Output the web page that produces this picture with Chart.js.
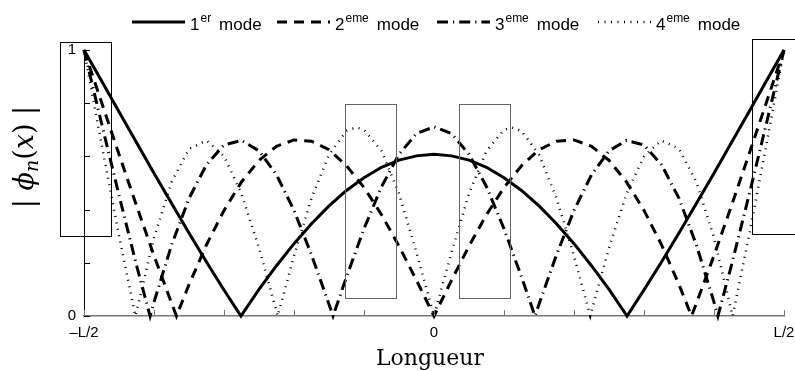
<!DOCTYPE html>
<html>
<head>
<meta charset="utf-8">
<script src="https://cdn.jsdelivr.net/npm/chart.js@4.4.1/dist/chart.umd.min.js"></script>
<style>
  html, body { margin: 0; padding: 0; background: #fff; }
  #wrap { width: 795px; height: 371px; }
</style>
</head>
<body>
<div id="wrap"><canvas id="chart"></canvas></div>
<script>
// |phi_n(x)|, x in units of L (-L/2 .. L/2)
const mode1X = [-0.5, -0.475, -0.45, -0.425, -0.4, -0.375, -0.35, -0.325, -0.3, -0.2758, -0.25, -0.225, -0.2, -0.175, -0.15, -0.125, -0.1, -0.075, -0.05, -0.025, 0,
  0.025, 0.05, 0.075, 0.1, 0.125, 0.15, 0.175, 0.2, 0.225, 0.25, 0.2758, 0.3, 0.325, 0.35, 0.375, 0.4, 0.425, 0.45, 0.475, 0.5]
const mode1Y = [1, 0.884, 0.768, 0.652, 0.537, 0.424, 0.312, 0.203, 0.098, 0, 0.100, 0.189, 0.272, 0.347, 0.414, 0.472, 0.520, 0.559, 0.586, 0.602, 0.608,
  0.602, 0.586, 0.559, 0.520, 0.472, 0.414, 0.347, 0.272, 0.189, 0.100, 0, 0.098, 0.203, 0.312, 0.424, 0.537, 0.652, 0.768, 0.884, 1]

const mode2X = [-0.5, -0.475, -0.45, -0.425, -0.4, -0.375, -0.3679, -0.35, -0.325, -0.3, -0.275, -0.25, -0.225, -0.2, -0.175, -0.15, -0.125, -0.1, -0.075, -0.05, -0.025, 0,
  0.025, 0.05, 0.075, 0.1, 0.125, 0.15, 0.175, 0.2, 0.225, 0.25, 0.275, 0.3, 0.325, 0.35, 0.3679, 0.375, 0.4, 0.425, 0.45, 0.475, 0.5]
const mode2Y = [1, 0.804, 0.608, 0.415, 0.227, 0.049, 0, 0.118, 0.268, 0.397, 0.504, 0.585, 0.638, 0.662, 0.657, 0.625, 0.565, 0.483, 0.381, 0.263, 0.134, 0,
  0.134, 0.263, 0.381, 0.483, 0.565, 0.625, 0.657, 0.662, 0.638, 0.585, 0.504, 0.397, 0.268, 0.118, 0, 0.049, 0.227, 0.415, 0.608, 0.804, 1]

const mode3X = [-0.5, -0.475, -0.45, -0.425, -0.4056, -0.4, -0.375, -0.35, -0.325, -0.3, -0.275, -0.25, -0.225, -0.2, -0.175, -0.15, -0.1442, -0.125, -0.1, -0.075, -0.05, -0.025, 0,
  0.025, 0.05, 0.075, 0.1, 0.125, 0.1442, 0.15, 0.175, 0.2, 0.225, 0.25, 0.275, 0.3, 0.325, 0.35, 0.375, 0.4, 0.4056, 0.425, 0.45, 0.475, 0.5]
const mode3Y = [1, 0.725, 0.454, 0.191, 0, 0.052, 0.266, 0.442, 0.569, 0.643, 0.660, 0.621, 0.531, 0.397, 0.230, 0.044, 0, 0.147, 0.328, 0.486, 0.608, 0.686, 0.711,
  0.686, 0.608, 0.486, 0.328, 0.147, 0, 0.044, 0.230, 0.397, 0.531, 0.621, 0.660, 0.643, 0.569, 0.442, 0.266, 0.052, 0, 0.191, 0.454, 0.725, 1]

const mode4X = [-0.5, -0.475, -0.45, -0.4266, -0.425, -0.4, -0.375, -0.35, -0.325, -0.3, -0.275, -0.25, -0.225, -0.2232, -0.2, -0.175, -0.15, -0.125, -0.111, -0.1, -0.075, -0.05, -0.025, 0,
  0.025, 0.05, 0.075, 0.1, 0.111, 0.125, 0.15, 0.175, 0.2, 0.2232, 0.225, 0.25, 0.275, 0.3, 0.325, 0.35, 0.375, 0.4, 0.425, 0.4266, 0.45, 0.475, 0.5]
const mode4Y = [1, 0.647, 0.302, 0, 0.017, 0.294, 0.503, 0.628, 0.660, 0.601, 0.459, 0.256, 0.018, 0, 0.226, 0.443, 0.607, 0.696, 0.709, 0.700, 0.621, 0.460, 0.239, 0,
  0.239, 0.460, 0.621, 0.700, 0.709, 0.696, 0.607, 0.443, 0.226, 0, 0.018, 0.256, 0.459, 0.601, 0.660, 0.628, 0.503, 0.294, 0.017, 0, 0.302, 0.647, 1]

const modeNumbers = ['1', '2', '3', '4']
const modeSuffixes = ['er', 'eme', 'eme', 'eme']

const xTickValues = [-0.5, 0, 0.5]
const xTickLabels = ['\u2013L/2', '0', 'L/2']
const yTickValues = [0, 1]
const yTickLabels = ['0', '1']

// highlight frames, in data units: [x0, x1, y0, y1]
const frames = [
  [-0.534, -0.462, 0.299, 1.029],
  [-0.127, -0.055, 0.066, 0.797],
  [0.036, 0.108, 0.066, 0.798],
  [0.454, 0.54, 0.307, 1.041]
]
const frameColors = ['#000', '#666', '#666', '#000']

const lineStyles = [
  { width: 3, dash: [] },
  { width: 3, dash: [10, 7] },
  { width: 3, dash: [11, 5, 1.2, 5] },
  { width: 2.5, dash: [1, 5.5] }
]

// left edge of each legend entry, in pixels
const legendStarts = [132, 277, 437, 598]

const sansFont = '"Liberation Sans", Arial, Helvetica, sans-serif'
const serifFont = '"DejaVu Serif", "Liberation Serif", serif'

function points (xs, ys) {
  return xs.map((x, i) => ({ x: x, y: ys[i] }))
}

function buildDataset (xs, ys, i) {
  return {
    label: modeNumbers[i] + modeSuffixes[i] + ' mode',
    data: points(xs, ys),
    showLine: true,
    borderColor: '#000',
    borderWidth: lineStyles[i].width,
    borderDash: lineStyles[i].dash,
    borderCapStyle: 'butt',
    borderJoinStyle: 'miter',
    pointRadius: 0,
    tension: 0,
    clip: false
  }
}

function labelFor (values, labels) {
  return (v) => {
    const k = values.findIndex((t) => Math.abs(t - v) < 1e-6)
    return k < 0 ? '' : labels[k]
  }
}

// ticks pointing into the plot, like the original
const innerTicks = {
  id: 'innerTicks',
  afterDatasetsDraw (chart) {
    const { ctx, chartArea, scales } = chart
    ctx.save()
    ctx.lineWidth = 1
    ctx.strokeStyle = '#777'
    scales.x.ticks.forEach((t) => {
      const px = Math.round(scales.x.getPixelForValue(t.value)) + 0.5
      ctx.beginPath()
      ctx.moveTo(px, chartArea.bottom)
      ctx.lineTo(px, chartArea.bottom - 6)
      ctx.stroke()
    })
    ctx.strokeStyle = '#000'
    scales.y.ticks.forEach((t) => {
      const py = Math.round(scales.y.getPixelForValue(t.value)) + 0.5
      ctx.beginPath()
      ctx.moveTo(chartArea.left, py)
      ctx.lineTo(chartArea.left + 6, py)
      ctx.stroke()
    })
    ctx.restore()
  }
}

const framesPlugin = {
  id: 'frames',
  afterDatasetsDraw (chart) {
    const { ctx, scales } = chart
    ctx.save()
    ctx.lineWidth = 1
    frames.forEach((f, i) => {
      const x0 = Math.round(scales.x.getPixelForValue(f[0])) + 0.5
      const x1 = Math.round(scales.x.getPixelForValue(f[1])) + 0.5
      const y0 = Math.round(scales.y.getPixelForValue(f[2])) + 0.5
      const y1 = Math.round(scales.y.getPixelForValue(f[3])) + 0.5
      ctx.strokeStyle = frameColors[i]
      ctx.strokeRect(x0, y1, x1 - x0, y0 - y1)
    })
    ctx.restore()
  }
}

const titles = {
  id: 'titles',
  afterDraw (chart) {
    const { ctx, chartArea } = chart
    ctx.save()
    ctx.fillStyle = '#000'
    ctx.textBaseline = 'alphabetic'

    // x title
    ctx.font = '22px ' + serifFont
    ctx.textAlign = 'center'
    ctx.fillText('Longueur', 430, 365)

    // y title: | phi_n(x) |
    const pieces = [
      ['|', 'normal 27px', 0], [' ', 'normal 27px', 0],
      ['\u03d5', 'italic 27px', 0], ['n', 'italic 19px', 5],
      ['(', 'normal 27px', 0], ['x', 'italic 27px', 0], [')', 'normal 27px', 0],
      [' ', 'normal 27px', 0], ['|', 'normal 27px', 0]
    ]
    let total = 0
    pieces.forEach((p) => {
      ctx.font = p[1] + ' ' + serifFont
      p.push(ctx.measureText(p[0]).width)
      total += p[3]
    })
    ctx.translate(33, 157)
    ctx.rotate(-Math.PI / 2)
    ctx.textAlign = 'left'
    let x = -total / 2
    pieces.forEach((p) => {
      ctx.font = p[1] + ' ' + serifFont
      ctx.fillText(p[0], x, p[2])
      x += p[3]
    })
    ctx.restore()
  }
}

const legendRow = {
  id: 'legendRow',
  afterDraw (chart) {
    const ctx = chart.ctx
    const big = '17px ' + sansFont
    const small = '12px ' + sansFont
    const sample = 53
    const lineY = 22
    const baseY = 30
    ctx.save()
    ctx.fillStyle = '#000'
    ctx.textBaseline = 'alphabetic'
    ctx.textAlign = 'left'
    chart.data.datasets.forEach((ds, i) => {
      const x = legendStarts[i]
      ctx.strokeStyle = '#000'
      ctx.lineWidth = ds.borderWidth
      ctx.lineCap = 'butt'
      ctx.setLineDash(ds.borderDash)
      ctx.beginPath()
      ctx.moveTo(x, lineY)
      ctx.lineTo(x + sample, lineY)
      ctx.stroke()
      ctx.setLineDash([])
      let tx = x + sample + 5
      ctx.font = big
      ctx.fillText(modeNumbers[i], tx, baseY)
      tx += ctx.measureText(modeNumbers[i]).width + 1
      ctx.font = small
      ctx.fillText(modeSuffixes[i], tx, baseY - 8)
      tx += ctx.measureText(modeSuffixes[i]).width + 8
      ctx.font = big
      ctx.fillText('mode', tx, baseY)
    })
    ctx.restore()
  }
}

new Chart(document.getElementById('chart'), {
  type: 'scatter',
  data: {
    datasets: [
      buildDataset(mode1X, mode1Y, 0),
      buildDataset(mode2X, mode2Y, 1),
      buildDataset(mode3X, mode3Y, 2),
      buildDataset(mode4X, mode4Y, 3)
    ]
  },
  options: {
    responsive: true,
    maintainAspectRatio: false,
    animation: false,
    layout: { padding: { top: 50, right: 11, bottom: 0, left: 0 } },
    plugins: {
      legend: { display: false },
      tooltip: { enabled: false }
    },
    scales: {
      x: {
        type: 'linear',
        min: -0.5,
        max: 0.5,
        grid: { display: false, drawTicks: false },
        border: { display: true, color: '#777', width: 1.5 },
        ticks: {
          stepSize: 0.1,
          autoSkip: false,
          maxRotation: 0,
          padding: 8,
          color: '#000',
          font: { family: sansFont, size: 15 },
          callback: labelFor(xTickValues, xTickLabels)
        },
        afterFit: (s) => {
          s.height = 55
          s.paddingLeft = 0
          s.paddingRight = 0
        }
      },
      y: {
        min: 0,
        max: 1,
        grid: { display: false, drawTicks: false },
        border: { display: true, color: '#000', width: 1 },
        ticks: {
          stepSize: 0.2,
          padding: 8,
          color: '#000',
          font: { family: sansFont, size: 15 },
          callback: labelFor(yTickValues, yTickLabels)
        },
        afterFit: (s) => {
          s.width = 84
          s.paddingTop = 0
          s.paddingBottom = 0
        }
      }
    }
  },
  plugins: [innerTicks, framesPlugin, titles, legendRow]
})
</script>
</body>
</html>
